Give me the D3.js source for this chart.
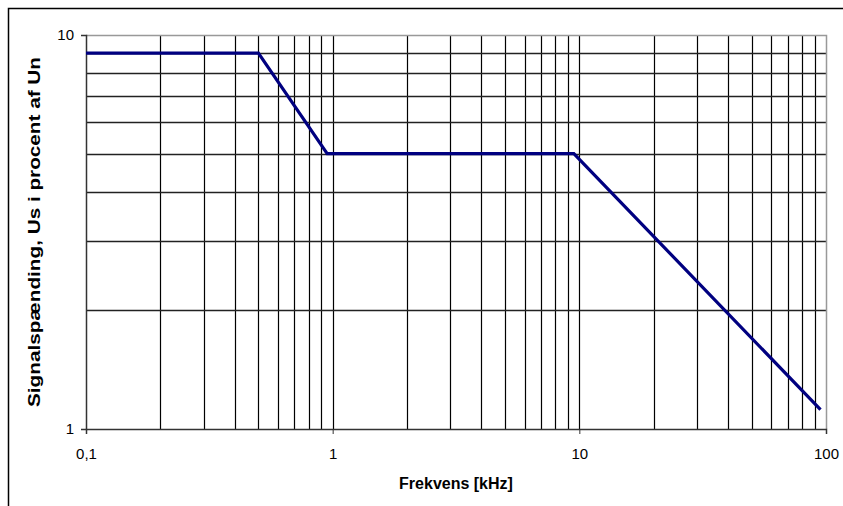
<!DOCTYPE html>
<html>
<head>
<meta charset="utf-8">
<script src="https://cdn.jsdelivr.net/npm/d3@7"></script>
<style>
  body { margin: 0; background: #fff; }
  svg { display: block; font-family: "Liberation Sans", Arial, sans-serif; }
</style>
</head>
<body>
<div id="chart-area"></div>
<script>
// data
var freqs = [0.1, 0.5, 0.95, 9.5, 95];      // kHz
var levels = [9, 9, 5, 5, 1.12];           // Us in % of Un
var xTicks = [0.1, 1, 10, 100];
var xTickLabels = ["0,1", "1", "10", "100"];
var yTicks = [1, 10];

var W = 843, H = 506;
var margins = { left: 86, right: 17, top: 35, bottom: 77 };
var width = W - margins.left - margins.right;
var height = H - margins.top - margins.bottom;

var svg = d3.select("#chart-area").append("svg")
    .attr("width", W).attr("height", H);

// outer frame (only left and top edges show)
svg.append("path")
    .attr("d", "M8.5," + H + "V8.5H" + W)
    .attr("fill", "none").attr("stroke", "#000").attr("stroke-width", 1.5);

var g = svg.append("g")
    .attr("transform", "translate(" + margins.left + "," + margins.top + ")");

var x = d3.scaleLog().domain([0.1, 100]).range([0, width]);
var y = d3.scaleLog().domain([1, 10]).range([height, 0]);

// minor grid values
var minorX = [], minorY = [];
[0.1, 1, 10].forEach(function(d){
    for (var k = 2; k <= 9; k++) minorX.push(d * k);
});
for (var k = 2; k <= 9; k++) minorY.push(k);

// vertical grid
g.selectAll(".vgrid").data(minorX.concat([1, 10])).enter().append("line")
    .attr("x1", function(d){ return Math.round(x(d)) + 0.5; })
    .attr("x2", function(d){ return Math.round(x(d)) + 0.5; })
    .attr("y1", 0).attr("y2", height)
    .attr("stroke", "#000").attr("stroke-width", 1.2);

// horizontal grid
g.selectAll(".hgrid").data(minorY).enter().append("line")
    .attr("y1", function(d){ return Math.round(y(d)) + 0.5; })
    .attr("y2", function(d){ return Math.round(y(d)) + 0.5; })
    .attr("x1", 0).attr("x2", width)
    .attr("stroke", "#222").attr("stroke-width", 1.5);

// plot area border top / right (grey)
g.append("path")
    .attr("d", "M0,0.5H" + (width + 0.5) + "V" + height)
    .attr("fill", "none").attr("stroke", "#999").attr("stroke-width", 1.5);

// axes
var xAxis = d3.axisBottom(x).tickValues(xTicks).tickSize(5)
    .tickFormat(function(d, i){ return xTickLabels[i]; });
var gx = g.append("g").attr("transform", "translate(0," + height + ")").call(xAxis);
gx.select(".domain").attr("stroke", "#333").attr("stroke-width", 1.5);
gx.selectAll(".tick line").attr("stroke", "#333");
gx.selectAll("text").attr("font-size", "15px").attr("fill", "#000")
    .attr("y", 25).attr("dy", "0.35em");

var yAxis = d3.axisLeft(y).tickValues(yTicks).tickSize(5).tickFormat(d3.format("d"));
var gy = g.append("g").call(yAxis);
gy.select(".domain").attr("stroke", "#333").attr("stroke-width", 1.5);
gy.selectAll(".tick line").attr("stroke", "#333");
gy.selectAll("text").attr("font-size", "15px").attr("fill", "#000").attr("x", -12);

// data line
var line = d3.line()
    .x(function(d){ return x(d[0]); })
    .y(function(d){ return y(d[1]); });
g.append("path")
    .datum(d3.zip(freqs, levels))
    .attr("d", line)
    .attr("fill", "none")
    .attr("stroke", "#000080")
    .attr("stroke-width", 3.2);

// axis titles
g.append("text")
    .attr("x", width / 2).attr("y", height + 60)
    .attr("text-anchor", "middle")
    .attr("font-size", "16px").attr("font-weight", "bold")
    .text("Frekvens [kHz]");

// the vertical title is wider in the original, so stretch it a bit
g.append("text")
    .attr("transform", "rotate(-90)")
    .attr("x", -height / 2).attr("y", -46)
    .attr("text-anchor", "middle")
    .attr("font-size", "16px").attr("font-weight", "bold")
    .attr("textLength", 350).attr("lengthAdjust", "spacingAndGlyphs")
    .text("Signalspænding, Us i procent af Un");
</script>
</body>
</html>
